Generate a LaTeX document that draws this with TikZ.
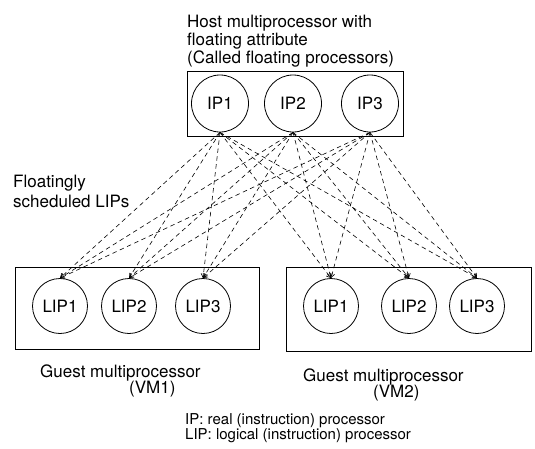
\documentclass[tikz,border=0pt]{standalone}
\usepackage{fontspec}
\setmainfont{TeX Gyre Heros}
\usetikzlibrary{arrows.meta}
\newcommand{\bigtxt}{\fontsize{17}{20}\selectfont}
\newcommand{\smalltxt}{\fontsize{15}{17}\selectfont}
\begin{document}
\begin{tikzpicture}[x=1pt,y=-1pt,>={Straight Barb[length=4pt,width=5pt]},
  box/.style={draw,line width=.8pt,inner sep=0pt},
  proc/.style={draw,circle,line width=.8pt,inner sep=0pt,font=\bigtxt},
  lbl/.style={anchor=base west,inner sep=0pt,font=\bigtxt},
  link/.style={->,line width=.6pt,dash pattern=on 4.5pt off 3.5pt}]
\useasboundingbox (0,0) rectangle (535,448);
% host multiprocessor
\node[box,minimum width=216pt,minimum height=65pt] (host) at (295,103.5){};
\foreach \i/\x in {1/220,2/293,3/370}{\node[proc,minimum size=57pt] (ip\i) at (\x,103.5){IP\i};}
\node[lbl] (ht1) at (187,27){Host multiprocessor with};\node[lbl] (ht2) at (187,45){floating attribute};
\node[lbl] (ht3) at (187,63){(Called floating processors)};
% guest multiprocessors
\node[box,minimum width=244pt,minimum height=82pt] (vma) at (137,308){};
\node[box,minimum width=245pt,minimum height=84pt] (vmb) at (408.5,309){};
\foreach \i/\x in {1/60,2/129,3/203}{\node[proc,minimum size=55pt] (la\i) at (\x,306){LIP\i};}
\foreach \i/\x in {1/331,2/409,3/477}{\node[proc,minimum size=55pt] (lb\i) at (\x,306){LIP\i};}
\node[lbl] (ga1) at (40,377){Guest multiprocessor};\node[lbl] (ga2) at (129,393){(VM1)};
\node[lbl] (gb1) at (303,381){Guest multiprocessor};\node[lbl] (gb2) at (373,397){(VM2)};
% floating schedule
\node[lbl] (fl1) at (13,187){Floatingly};\node[lbl] (fl2) at (13,207){scheduled LIPs};
\foreach \i in {1,2,3}{\foreach \j in {1,2,3}{\draw[link] (ip\i.south) -- (la\j.north);\draw[link] (ip\i.south) -- (lb\j.north);}}
% legend
\node[lbl,font=\smalltxt] (key1) at (185,424){IP: real (instruction) processor};
\node[lbl,font=\smalltxt] (key2) at (185,439){LIP: logical (instruction) processor};
\end{tikzpicture}
\end{document}
